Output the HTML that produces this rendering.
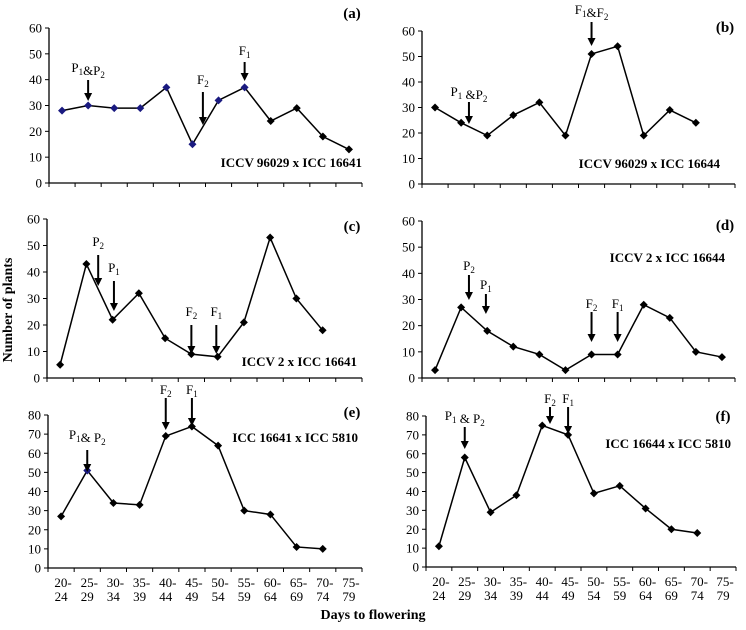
<!DOCTYPE html>
<html><head><meta charset="utf-8"><style>
body{margin:0;background:#fff}
svg{font-family:"Liberation Serif",serif}
</style></head><body>
<svg id="c" width="746" height="625" xmlns="http://www.w3.org/2000/svg">
<text x="12" y="310" transform="rotate(-90 12 310)" text-anchor="middle" font-weight="bold" font-size="14">Number of plants</text>
<text x="373" y="619" text-anchor="middle" font-weight="bold" font-size="14">Days to flowering</text>
</svg>
<script>
const categories=["20-24","25-29","30-34","35-39","40-44","45-49","50-54","55-59","60-64","65-69","70-74","75-79"];
const seriesA=[28,30,29,29,37,15,32,37,24,29,18,13];
const seriesB=[30,24,19,27,32,19,51,54,19,29,24];
const seriesC=[5,43,22,32,15,9,8,21,53,30,18];
const seriesD=[3,27,18,12,9,3,9,9,28,23,10,8];
const seriesE=[27,51,34,33,69,74,64,30,28,11,10];
const seriesF=[11,58,29,38,75,70,39,43,31,20,18];
const ticks60=[0,10,20,30,40,50,60];
const ticks80=[0,10,20,30,40,50,60,70,80];
const NS="http://www.w3.org/2000/svg";
const svg=document.getElementById('c');
function mk(t,a,p){const e=document.createElementNS(NS,t);for(const k in a)e.setAttribute(k,a[k]);(p||svg).appendChild(e);return e;}
const panels=[
 {id:'a',x0:49,x1:362,y0:183,yT:28,ticks:ticks60,data:seriesA,blue:[0,1,2,3,4,5,6,7],letter:'(a)',lx:352,ly:18,title:'ICCV 96029 x ICC 16641',tx:362,ty:167,
  arrows:[{c:1,y1:80,y2:101,lab:'P1&P2',ly:72},{c:5.4,y1:92,y2:125,lab:'F2',ly:84},{c:7,y1:62,y2:81,lab:'F1',ly:55}]},
 {id:'b',x0:422,x1:735,y0:184,yT:31,ticks:ticks60,data:seriesB,blue:[],letter:'(b)',lx:725,ly:32,title:'ICCV 96029 x ICC 16644',tx:720,ty:168,
  arrows:[{c:1.3,y1:102,y2:124,lab:'P1 &P2',ly:96},{c:6,y1:22,y2:46,lab:'F1&F2',ly:14}]},
 {id:'c',x0:47,x1:362,y0:378,yT:219,ticks:ticks60,data:seriesC,blue:[],letter:'(c)',lx:352,ly:231,title:'ICCV 2 x ICC 16641',tx:357,ty:366,
  arrows:[{c:1.45,y1:255,y2:286,lab:'P2',ly:246},{c:2.05,y1:281,y2:311,lab:'P1',ly:272},{c:5,y1:325,y2:354,lab:'F2',ly:316},{c:5.95,y1:325,y2:354,lab:'F1',ly:316}]},
 {id:'d',x0:422,x1:735,y0:378,yT:221,ticks:ticks60,data:seriesD,blue:[],letter:'(d)',lx:725,ly:230,title:'ICCV 2 x ICC 16644',tx:725,ty:262,
  arrows:[{c:1.3,y1:275,y2:300,lab:'P2',ly:270},{c:1.95,y1:294,y2:314,lab:'P1',ly:289},{c:6,y1:312,y2:342,lab:'F2',ly:308},{c:7,y1:312,y2:342,lab:'F1',ly:308}]},
 {id:'e',x0:48,x1:362,y0:568,yT:415,ticks:ticks80,data:seriesE,blue:[1],letter:'(e)',lx:352,ly:417,title:'ICC 16641 x ICC 5810',tx:358,ty:442,
  arrows:[{c:1,y1:450,y2:472,lab:'P1& P2',ly:439},{c:4,y1:398,y2:430,lab:'F2',ly:394},{c:5,y1:398,y2:426,lab:'F1',ly:394}],xl:true},
 {id:'f',x0:426,x1:736,y0:567,yT:416,ticks:ticks80,data:seriesF,blue:[],letter:'(f)',lx:723,ly:421,title:'ICC 16644 x ICC 5810',tx:731,ty:448,
  arrows:[{c:1,y1:427,y2:449,lab:'P1 & P2',ly:420},{c:4.3,y1:407,y2:424,lab:'F2',ly:403},{c:5,y1:407,y2:434,lab:'F1',ly:403}],xl:true}
];
function label(g,x,y,s){
 const t=mk('text',{x:x,y:y,'text-anchor':'middle','font-size':13},g);
 const parts=s.split(/([12])/);
 parts.forEach(p=>{if(!p)return;const ts=mk('tspan',/^[12]$/.test(p)?{'font-size':9,dy:3}:{dy:0},t);ts.textContent=p;
  if(/^[12]$/.test(p)){const r=mk('tspan',{dy:-3},t);r.textContent='';}});
 return t;
}
panels.forEach(P=>{
 const g=mk('g',{});
 
 
 const max=P.ticks[P.ticks.length-1];
 const y=v=>P.y0-(v/max)*(P.y0-P.yT);
 const w=(P.x1-P.x0)/categories.length;
 const x=i=>P.x0+w*(i+0.5);
 const ax=mk('path',{d:`M${P.x0} ${P.yT}V${P.y0}H${P.x1}`,stroke:'#000',fill:'none','stroke-width':1.3},g);
 
 
 P.ticks.forEach(t=>{
  mk('line',{x1:P.x0-4,x2:P.x0,y1:y(t),y2:y(t),stroke:'#000'},g);
  const tl=mk('text',{x:P.x0-7,y:y(t)+4.5,'text-anchor':'end','font-size':13},g);
  tl.textContent=t;
  
  
 });
 for(let i=0;i<=categories.length;i++){
  mk('line',{x1:P.x0+w*i,x2:P.x0+w*i,y1:P.y0,y2:P.y0+4,stroke:'#000'},g);
 }
 if(P.xl){categories.forEach((c,i)=>{
  const [a,b]=c.split('-');
  const t1=mk('text',{x:x(i)+2,y:P.y0+19,'text-anchor':'middle','font-size':13},g);t1.textContent=a+'-';
  
  
  const t2=mk('text',{x:x(i),y:P.y0+33,'text-anchor':'middle','font-size':13},g);t2.textContent=b;
 });}
 const pts=P.data.map((v,i)=>x(i)+','+y(v)).join(' ');
 const ln=mk('polyline',{points:pts,fill:'none',stroke:'#000','stroke-width':1.5},g);
 
 
 P.data.forEach((v,i)=>{
  const cx=x(i),cy=y(v);
  const m=mk('path',{d:`M${cx} ${cy-4}L${cx+4} ${cy}L${cx} ${cy+4}L${cx-4} ${cy}Z`,fill:P.blue.includes(i)?'#1a1a80':'#000'},g);
  
  
 });
 P.arrows.forEach(A=>{
  const ax2=x(A.c);
  mk('line',{x1:ax2,x2:ax2,y1:A.y1,y2:A.y2-6,stroke:'#000','stroke-width':2},g);
  mk('path',{d:`M${ax2-4} ${A.y2-8}L${ax2+4} ${A.y2-8}L${ax2} ${A.y2}Z`,fill:'#000'},g);
  const l=label(g,ax2,A.ly,A.lab);
  
  
 });
 const le=mk('text',{x:P.lx,y:P.ly,'text-anchor':'middle','font-size':15,'font-weight':'bold'},g);
 le.textContent=P.letter;
 
 
 const ti=mk('text',{x:P.tx,y:P.ty,'text-anchor':'end','font-size':13,'font-weight':'bold'},g);
 ti.textContent=P.title;
 
 
});
</script>
</body></html>
